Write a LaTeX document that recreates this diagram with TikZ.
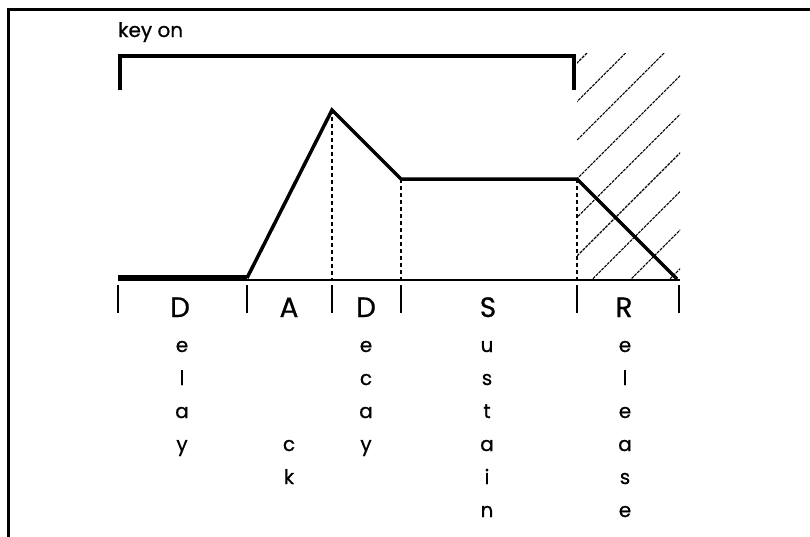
\documentclass[tikz,border=0pt]{standalone}
\usepackage{fontspec}
\setmainfont{Poppins}
\newfontfamily\envfont{Poppins}[FakeBold=0.7]
\usetikzlibrary{calc}

\begin{document}
\begin{tikzpicture}[
    x=1pt, y=-1pt,
    env/.style={line width=3.5pt, line join=miter},
    guide/.style={line width=1.6pt, dash pattern=on 4pt off 3pt},
    tickmark/.style={line width=2pt},
    hatch/.style={line width=1.1pt, dash pattern=on 3pt off 1pt},
    bigletter/.style={anchor=base, inner sep=0pt, font=\envfont\fontsize{28}{30}\selectfont},
    lowletter/.style={anchor=base, inner sep=0pt, font=\envfont\fontsize{20}{22}\selectfont}
  ]
  \useasboundingbox (0,0) rectangle (810,536);
  \draw[line width=2.7pt] (8.7,540) -- (8.7,9.5) -- (815,9.5);

  \coordinate (t0) at (118,278);
  \coordinate (t1) at (247,278);
  \coordinate (pk) at (332,110);
  \coordinate (sl) at (401,179);
  \coordinate (kr) at (577,179);
  \coordinate (t5) at (677,279);
  \coordinate (ax0) at (118,280);
  \coordinate (ax5) at (680,280);

  % release hatching
  \begin{scope}
    \clip (577,53) rectangle (680,280);
    \foreach \c in {0,...,8}
      \draw[hatch] ({640+38.6*\c-53},53) -- ({640+38.6*\c-280},280);
  \end{scope}

  \node[lowletter, anchor=base west] (keyon) at (118,37) {key on};
  \draw[line width=4pt] (119.5,90) -- (119.5,56) -- (573.5,56) -- (573.5,90);

  \draw[tickmark] (ax0) -- (ax5);
  \foreach \x in {118,247,332,401,577,679}
    \draw[tickmark] (\x,285) -- (\x,313);

  \foreach \p in {pk,sl,kr}
    \draw[guide] (\p) -- (\p |- ax0);

  \draw[line width=6pt] (t0) -- (t1);
  \draw[env] (t1) -- (pk) -- (sl) -- (kr) -- (t5);

  \node[bigletter] (dly) at (180,317) {D};
  \node[bigletter] (att) at (289,317) {A};
  \node[bigletter] (dec) at (366,317) {D};
  \node[bigletter] (sus) at (488,317) {S};
  \node[bigletter] (rel) at (624,317) {R};

  \foreach \ch [count=\i] in {e,l,a,y}
    \node[lowletter] (dly\i) at (182,319+33*\i) {\ch};
  \foreach \ch/\i in {c/4,k/5}
    \node[lowletter] (att\i) at (289,319+33*\i) {\ch};
  \foreach \ch [count=\i] in {e,c,a,y}
    \node[lowletter] (dec\i) at (366,319+33*\i) {\ch};
  \foreach \ch [count=\i] in {u,s,t,a,i,n}
    \node[lowletter] (sus\i) at (487,319+33*\i) {\ch};
  \foreach \ch [count=\i] in {e,l,e,a,s,e}
    \node[lowletter] (rel\i) at (625,319+33*\i) {\ch};

\end{tikzpicture}
\end{document}
